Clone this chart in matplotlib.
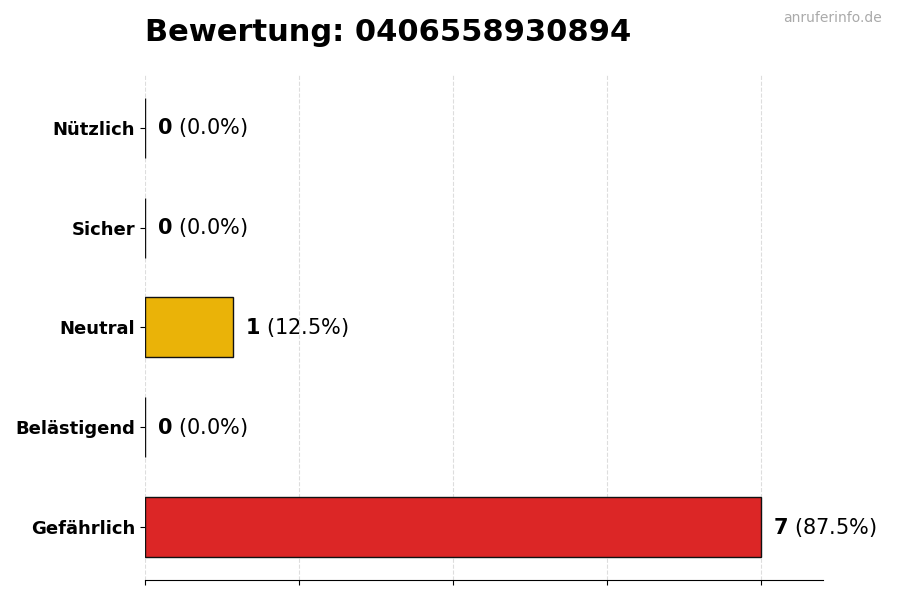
import numpy as np
import matplotlib
matplotlib.use('Agg')
import matplotlib.pyplot as plt

categories = ['Nützlich', 'Sicher', 'Neutral', 'Belästigend', 'Gefährlich']
counts = [0, 0, 1, 0, 7]
colors = ['#16A34A', '#22C55E', '#EAB308', '#F97316', '#DC2626']
title = 'Bewertung: 0406558930894'

total = sum(counts)
y = np.arange(len(categories))[::-1]

fig = plt.figure(figsize=(9, 6), dpi=100)
ax = fig.add_axes([0.161, 0.0333, 0.753, 0.842])

ax.barh(y, counts, height=0.6, color=colors, edgecolor='#111111', linewidth=1)
ax.set_yticks(y)
ax.set_yticklabels(categories, fontsize=13, fontweight='bold')

xmax = max(counts)
ax.set_xlim(0, xmax * 1.1)
ax.set_xticks(np.linspace(0, xmax, 5))
ax.set_xticklabels([])
ax.grid(axis='x', linestyle='--', color='#dddddd', linewidth=0.8)
ax.set_axisbelow(True)

for s in ['top', 'right', 'left']:
    ax.spines[s].set_visible(False)

# bold count followed by the share in normal weight
for yi, c in zip(y, counts):
    pct = 100 * c / total
    ax.annotate(r'$\mathbf{%d}$ (%.1f%%)' % (c, pct), xy=(c, yi),
                xytext=(12, 0), textcoords='offset pixels',
                va='center', ha='left', fontsize=15)

fig.text(0.161, 0.946, title, fontsize=22, fontweight='bold', va='center', ha='left')
fig.text(0.98, 0.97, 'anruferinfo.de', fontsize=10, color='#aaaaaa', ha='right', va='center')

fig.savefig('out.png', dpi=100)
